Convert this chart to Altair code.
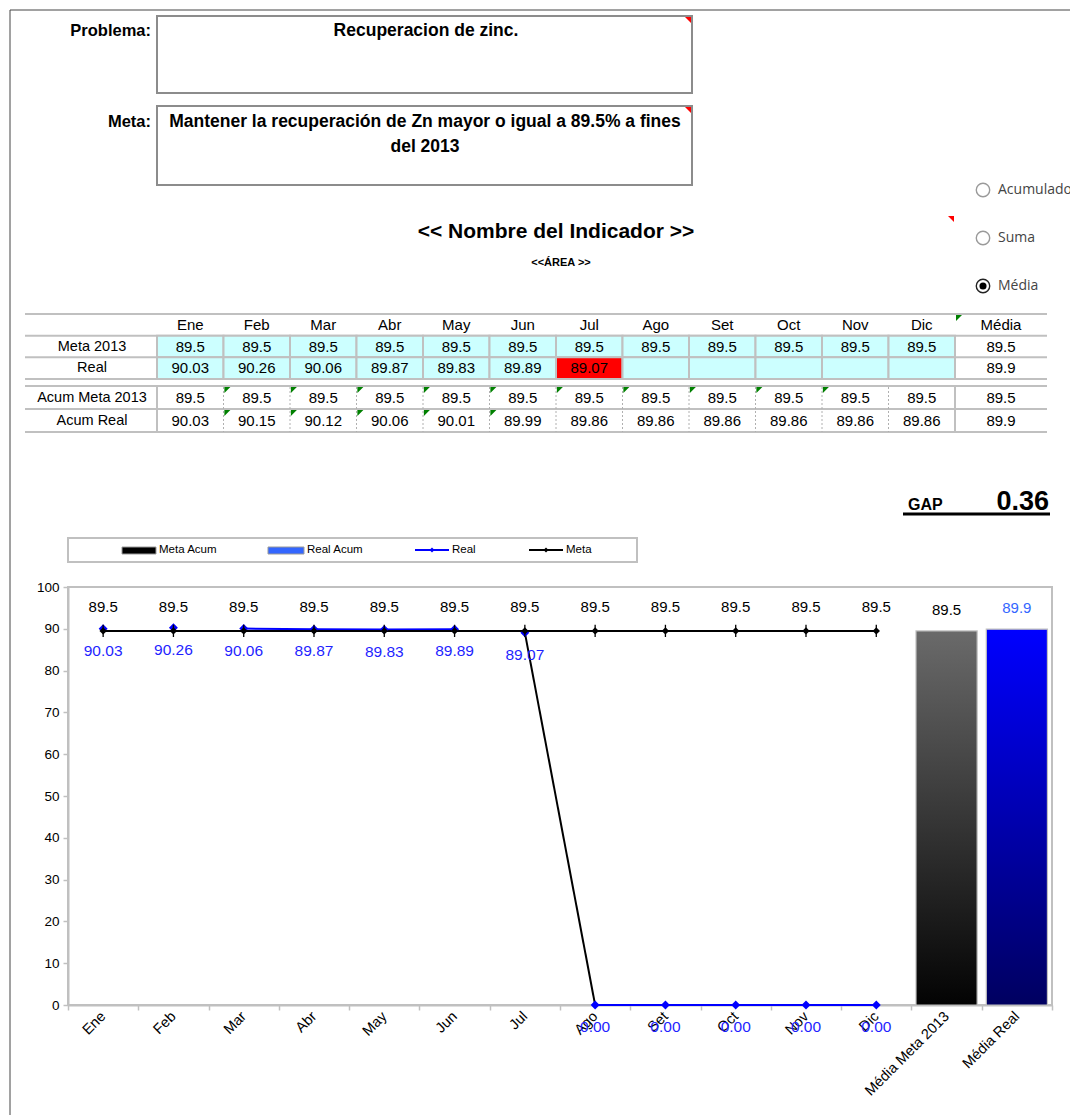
import altair as alt
import pandas as pd

# ------------------------------------------------------------------
# Datos del indicador
# ------------------------------------------------------------------
meses = ["Ene", "Feb", "Mar", "Abr", "May", "Jun", "Jul", "Ago", "Set", "Oct", "Nov", "Dic"]
meta_2013 = [89.5, 89.5, 89.5, 89.5, 89.5, 89.5, 89.5, 89.5, 89.5, 89.5, 89.5, 89.5]
real = [90.03, 90.26, 90.06, 89.87, 89.83, 89.89, 89.07, None, None, None, None, None]
real_grafico = [90.03, 90.26, 90.06, 89.87, 89.83, 89.89, 89.07, 0, 0, 0, 0, 0]
acum_meta = [89.5, 89.5, 89.5, 89.5, 89.5, 89.5, 89.5, 89.5, 89.5, 89.5, 89.5, 89.5]
acum_real = [90.03, 90.15, 90.12, 90.06, 90.01, 89.99, 89.86, 89.86, 89.86, 89.86, 89.86, 89.86]
media_meta = 89.5
media_real = 89.9
media_acum_meta = 89.5
media_acum_real = 89.9
barras = ["Média Meta 2013", "Média Real"]
barras_valor = [89.5, 89.9]
gap = 0.36
y_ticks = [0, 10, 20, 30, 40, 50, 60, 70, 80, 90, 100]

problema = "Recuperacion de zinc."
meta_texto = ["Mantener la recuperación de Zn mayor o igual a 89.5% a fines", "del 2013"]
titulo = "<< Nombre del Indicador >>"
area = "<<ÁREA >>"
opciones = ["Acumulado", "Suma", "Média"]
opcion_activa = "Média"

# celdas con comentario (triángulo verde)
coment_acum_meta = ["Feb", "Mar", "Abr", "May", "Jun", "Jul", "Ago", "Set", "Oct", "Nov"]
coment_acum_real = ["Feb", "Mar", "Abr", "May", "Jun"]
# tramos de la serie Real: los que salen de estos meses van en negro o no se trazan
tramos_negros = ["Jul"]
tramos_ocultos = ["Ene", "Feb", "Jun"]

# ------------------------------------------------------------------
# Geometría de la hoja
# ------------------------------------------------------------------
FONT = "Liberation Sans"
L, T, R, B = 68, 587, 1052, 1005          # área del gráfico
PW, PH = R - L, B - T


def X(px):
    return px - L


def Y(py):
    return py - T


def uno():
    return pd.DataFrame({"k": [0]})


def texto(t, x, y, **kw):
    base = dict(font=FONT, fontSize=15, color="black", align="center", baseline="middle")
    base.update(kw)
    return alt.Chart(pd.DataFrame({"t": [t]})).mark_text(**base).encode(
        x=alt.value(X(x)), y=alt.value(Y(y)), text="t:N"
    )


def caja(x1, y1, x2, y2, **kw):
    return alt.Chart(uno()).mark_rect(**kw).encode(
        x=alt.value(X(x1)), x2=alt.value(X(x2)), y=alt.value(Y(y1)), y2=alt.value(Y(y2))
    )


def linea(x1, y1, x2, y2, **kw):
    return alt.Chart(uno()).mark_rule(**kw).encode(
        x=alt.value(X(x1)), x2=alt.value(X(x2)), y=alt.value(Y(y1)), y2=alt.value(Y(y2))
    )


def simbolo(x, y, **kw):
    return alt.Chart(uno()).mark_point(**kw).encode(x=alt.value(X(x)), y=alt.value(Y(y)))


TRI_SUP_DER = "M-2,0L0,0L0,2Z"     # indicador de comentario (esquina superior derecha)
TRI_SUP_IZQ = "M0,0L2,0L0,2Z"      # indicador de comentario (esquina superior izquierda)

# ------------------------------------------------------------------
# Encabezado
# ------------------------------------------------------------------
encabezado = [
    linea(10, 10, 1070, 10, color="#444444", strokeWidth=1),
    linea(10, 10, 10, 1115, color="#444444", strokeWidth=1),
    texto("Problema:", 151, 31, align="right", fontWeight="bold", fontSize=16.5),
    caja(157, 16, 692, 93, fill="white", stroke="#8c8c8c", strokeWidth=2),
    texto(problema, 426, 31, fontWeight="bold", fontSize=17.5),
    simbolo(691, 17, shape=TRI_SUP_DER, filled=True, color="red", size=36, opacity=1),
    texto("Meta:", 151, 122, align="right", fontWeight="bold", fontSize=16.5),
    caja(157, 106, 692, 185, fill="white", stroke="#8c8c8c", strokeWidth=2),
    texto(meta_texto[0], 425, 122, fontWeight="bold", fontSize=17.5),
    texto(meta_texto[1], 425, 147, fontWeight="bold", fontSize=17.5),
    simbolo(691, 107, shape=TRI_SUP_DER, filled=True, color="red", size=36, opacity=1),
    texto(titulo, 556, 232, fontWeight="bold", fontSize=21),
    texto(area, 561, 263, fontWeight="bold", fontSize=11),
    simbolo(954, 216, shape=TRI_SUP_DER, filled=True, color="red", size=36, opacity=1),
]

for i, op in enumerate(opciones):
    yy = 190 + 48 * i
    activa = op == opcion_activa
    encabezado.append(
        simbolo(983, yy, shape="circle", filled=True, fill="white",
                stroke="#222222" if activa else "#9a9a9a", strokeWidth=1.4,
                size=180, opacity=1)
    )
    if activa:
        encabezado.append(simbolo(983, yy, shape="circle", filled=True, color="black", size=50, opacity=1))
    encabezado.append(texto(op, 998, yy, align="left", fontSize=14, color="#444444", font="Open Sans"))

# ------------------------------------------------------------------
# Tabla de valores
# ------------------------------------------------------------------
X_MES = alt.Scale(domain=meses, range=[X(157), X(955)], paddingInner=0, paddingOuter=0)
Y_SUP = alt.Scale(domain=["Mes", "Meta 2013", "Real"], range=[Y(314), Y(379)],
                  paddingInner=0, paddingOuter=0)
Y_INF = alt.Scale(domain=["Acum Meta 2013", "Acum Real"], range=[Y(386), Y(432)],
                  paddingInner=0, paddingOuter=0)
GRIS = "#C0C0C0"

filas_sup = []
for i, m in enumerate(meses):
    filas_sup.append({"mes": m, "fila": "Mes", "txt": m, "valor": None, "meta": None})
    filas_sup.append({"mes": m, "fila": "Meta 2013", "txt": f"{meta_2013[i]}",
                      "valor": meta_2013[i], "meta": meta_2013[i]})
    filas_sup.append({"mes": m, "fila": "Real",
                      "txt": "" if real[i] is None else f"{real[i]:.2f}",
                      "valor": real[i], "meta": meta_2013[i]})
df_sup = pd.DataFrame(filas_sup)

xs = alt.X("mes:N", scale=X_MES, axis=None)
ys = alt.Y("fila:N", scale=Y_SUP, axis=None)

celdas_sup = alt.Chart(df_sup).transform_filter("datum.fila != 'Mes'").mark_rect(
    stroke=GRIS, strokeWidth=2
).encode(
    x=xs, y=ys,
    color=alt.condition(
        "datum.fila == 'Real' && isValid(datum.valor) && datum.valor < datum.meta",
        alt.value("#FF0000"), alt.value("#CCFFFF"),
    ),
)
textos_sup = alt.Chart(df_sup).mark_text(fontSize=15, color="black").encode(x=xs, y=ys, text="txt:N")

df_filas_sup = pd.DataFrame({"fila": ["Mes", "Meta 2013", "Real"],
                             "etq": ["", "Meta 2013", "Real"],
                             "media": ["Média", f"{media_meta}", f"{media_real}"]})
rayas_sup = alt.Chart(df_filas_sup).mark_rule(color=GRIS, strokeWidth=2).encode(
    y=alt.Y("fila:N", scale=Y_SUP, axis=None, bandPosition=0),
    x=alt.value(X(25)), x2=alt.value(X(1047)),
)
raya_fin_sup = alt.Chart(df_filas_sup.tail(1)).mark_rule(color=GRIS, strokeWidth=2).encode(
    y=alt.Y("fila:N", scale=Y_SUP, axis=None, bandPosition=1),
    x=alt.value(X(25)), x2=alt.value(X(1047)),
)
etq_sup = alt.Chart(df_filas_sup).mark_text(fontSize=14.5, color="black").encode(
    y=alt.Y("fila:N", scale=Y_SUP, axis=None), x=alt.value(X(92)), text="etq:N"
)
media_sup = alt.Chart(df_filas_sup).mark_text(fontSize=15, color="black").encode(
    y=alt.Y("fila:N", scale=Y_SUP, axis=None), x=alt.value(X(1001)), text="media:N"
)
marca_media = simbolo(956, 315, shape=TRI_SUP_IZQ, filled=True, color="#008000", size=36, opacity=1)

tabla_sup = alt.layer(rayas_sup, raya_fin_sup, celdas_sup, textos_sup, etq_sup, media_sup)

filas_inf = []
for i, m in enumerate(meses):
    filas_inf.append({"mes": m, "fila": "Acum Meta 2013", "txt": f"{acum_meta[i]}",
                      "coment": m in coment_acum_meta})
    filas_inf.append({"mes": m, "fila": "Acum Real", "txt": f"{acum_real[i]:.2f}",
                      "coment": m in coment_acum_real})
df_inf = pd.DataFrame(filas_inf)
xi = alt.X("mes:N", scale=X_MES, axis=None)
yi = alt.Y("fila:N", scale=Y_INF, axis=None)

textos_inf = alt.Chart(df_inf).mark_text(fontSize=15, color="black").encode(x=xi, y=yi, text="txt:N")
verdes = alt.Chart(df_inf).transform_filter("datum.coment").mark_point(
    shape="M0.3,0.3L2.3,0.3L0.3,2.3Z", filled=True, color="#008000", size=36, opacity=1
).encode(
    x=alt.X("mes:N", scale=X_MES, axis=None, bandPosition=0),
    y=alt.Y("fila:N", scale=Y_INF, axis=None, bandPosition=0),
)
df_filas_inf = pd.DataFrame({"fila": ["Acum Meta 2013", "Acum Real"],
                             "etq": ["Acum Meta 2013", "Acum Real"],
                             "media": [f"{media_acum_meta}", f"{media_acum_real}"]})
rayas_inf = alt.Chart(df_filas_inf).mark_rule(color=GRIS, strokeWidth=2).encode(
    y=alt.Y("fila:N", scale=Y_INF, axis=None, bandPosition=0),
    x=alt.value(X(25)), x2=alt.value(X(1047)),
)
raya_fin_inf = alt.Chart(df_filas_inf.tail(1)).mark_rule(color=GRIS, strokeWidth=2).encode(
    y=alt.Y("fila:N", scale=Y_INF, axis=None, bandPosition=1),
    x=alt.value(X(25)), x2=alt.value(X(1047)),
)
df_cols = pd.DataFrame({"mes": meses})
sep_punteado = alt.Chart(df_cols).transform_filter(f"datum.mes != '{meses[0]}'").mark_rule(
    color="#b0b0b0", strokeWidth=1, strokeDash=[2, 2]
).encode(
    x=alt.X("mes:N", scale=X_MES, axis=None, bandPosition=0),
    y=alt.value(Y(387)), y2=alt.value(Y(432)),
)
sep_ini = alt.Chart(df_cols.head(1)).mark_rule(color=GRIS, strokeWidth=2).encode(
    x=alt.X("mes:N", scale=X_MES, axis=None, bandPosition=0),
    y=alt.value(Y(386)), y2=alt.value(Y(432)),
)
sep_fin = alt.Chart(df_cols.tail(1)).mark_rule(color=GRIS, strokeWidth=2).encode(
    x=alt.X("mes:N", scale=X_MES, axis=None, bandPosition=1),
    y=alt.value(Y(386)), y2=alt.value(Y(432)),
)
etq_inf = alt.Chart(df_filas_inf).mark_text(fontSize=14.5, color="black").encode(
    y=alt.Y("fila:N", scale=Y_INF, axis=None), x=alt.value(X(92)), text="etq:N"
)
media_inf = alt.Chart(df_filas_inf).mark_text(fontSize=15, color="black").encode(
    y=alt.Y("fila:N", scale=Y_INF, axis=None), x=alt.value(X(1001)), text="media:N"
)
tabla_inf = alt.layer(rayas_inf, raya_fin_inf, sep_punteado, sep_ini, sep_fin,
                      textos_inf, verdes, etq_inf, media_inf)

# ------------------------------------------------------------------
# GAP y leyenda
# ------------------------------------------------------------------
extras = [
    marca_media,
    texto("GAP", 908, 510, align="left", baseline="alphabetic", fontWeight="bold", fontSize=16),
    texto(f"{gap:.2f}", 1049, 510, align="right", baseline="alphabetic", fontWeight="bold", fontSize=27),
    linea(903, 514, 1050, 514, color="black", strokeWidth=3),
    caja(68, 538, 637, 562, fill="white", stroke=GRIS, strokeWidth=2),
    caja(122, 547, 156, 554, fill="black", stroke="#9a9a9a", strokeWidth=1),
    texto("Meta Acum", 159, 550, align="left", fontSize=11.5),
    caja(268, 547, 304, 554, fill="#3366FF", stroke="#9a9a9a", strokeWidth=1),
    texto("Real Acum", 307, 550, align="left", fontSize=11.5),
    linea(415, 550, 449, 550, color="#0000FF", strokeWidth=2),
    simbolo(432, 550, shape="diamond", filled=True, color="#0000FF", size=25, opacity=1),
    texto("Real", 452, 550, align="left", fontSize=11.5),
    linea(529, 550, 563, 550, color="black", strokeWidth=2),
    simbolo(546, 550, shape="diamond", filled=True, color="black", size=25, opacity=1),
    texto("Meta", 566, 550, align="left", fontSize=11.5),
]

# ------------------------------------------------------------------
# Gráfico principal
# ------------------------------------------------------------------
X_MAIN = alt.Scale(domain=meses + barras, paddingInner=0, paddingOuter=0)
Y_MAIN = alt.Scale(domain=[0, 100], nice=False)
eje_x = alt.Axis(title=None, labelAngle=-45, labelAlign="right", labelBaseline="middle",
                 labelFontSize=14.5, labelColor="black", labelFont=FONT, labelPadding=4,
                 tickColor=GRIS, tickSize=5, tickWidth=1.5, tickBand="extent",
                 domainColor=GRIS, domainWidth=2, labelOverlap=False)
eje_y = alt.Axis(title=None, values=y_ticks, grid=False, labelFontSize=13.5, labelColor="black",
                 labelFont=FONT, labelPadding=4, tickColor=GRIS, tickSize=5, tickWidth=1.5,
                 domainColor=GRIS, domainWidth=2)
ex = alt.X("cat:N", scale=X_MAIN, axis=eje_x)
ey = alt.Y("val:Q", scale=Y_MAIN, axis=eje_y)

df_meta = pd.DataFrame({"cat": meses, "val": meta_2013})
df_real = pd.DataFrame({"cat": meses, "val": real_grafico})
df_barras = pd.DataFrame({"cat": barras, "val": barras_valor})

tramos = []
for i in range(len(meses) - 1):
    if meses[i] in tramos_ocultos:
        continue
    for j in (i, i + 1):
        tramos.append({"tramo": i, "inicio": meses[i], "cat": meses[j], "val": real_grafico[j]})
df_tramos = pd.DataFrame(tramos)

grad_meta = alt.Gradient(gradient="linear", x1=0, x2=0, y1=0, y2=1, stops=[
    alt.GradientStop(color="#6a6a6a", offset=0), alt.GradientStop(color="#030303", offset=1)])
grad_real = alt.Gradient(gradient="linear", x1=0, x2=0, y1=0, y2=1, stops=[
    alt.GradientStop(color="#0000FF", offset=0), alt.GradientStop(color="#000060", offset=1)])

barra_meta = alt.Chart(df_barras).transform_filter(f"datum.cat == '{barras[0]}'").mark_bar(
    width=alt.RelativeBandSize(0.87), color=grad_meta, stroke=GRIS, strokeWidth=1.2
).encode(x=ex, y=ey)
barra_real = alt.Chart(df_barras).transform_filter(f"datum.cat == '{barras[1]}'").mark_bar(
    width=alt.RelativeBandSize(0.87), color=grad_real, stroke=GRIS, strokeWidth=1.2
).encode(x=ex, y=ey)
etq_barras = alt.Chart(df_barras).mark_text(fontSize=15, dy=-21).encode(
    x=ex, y=ey, text=alt.Text("val:Q", format=".1f"),
    color=alt.condition(f"datum.cat == '{barras[1]}'", alt.value("#3366FF"), alt.value("black")),
)

linea_real = alt.Chart(df_tramos).mark_line(strokeWidth=2).encode(
    x=ex, y=ey, detail="tramo:N",
    color=alt.condition(alt.FieldOneOfPredicate(field="inicio", oneOf=tramos_negros),
                        alt.value("black"), alt.value("#0000FF")),
)
linea_meta = alt.Chart(df_meta).mark_line(color="black", strokeWidth=2).encode(x=ex, y=ey)
puntos_real = alt.Chart(df_real).mark_point(shape="diamond", filled=True, color="#0000FF",
                                            size=80, opacity=1).encode(x=ex, y=ey)
puntos_meta = alt.Chart(df_meta).mark_point(shape="diamond", filled=True, color="black",
                                            size=55, opacity=1).encode(x=ex, y=ey)
cruz_meta = alt.Chart(df_meta).mark_point(shape="M0,-1L0,1", filled=False, color="black",
                                          strokeWidth=1.3, size=150, opacity=1).encode(x=ex, y=ey)
etq_meta = alt.Chart(df_meta).mark_text(fontSize=15, color="black", dy=-24).encode(
    x=ex, y=ey, text=alt.Text("val:Q", format=".1f"))
etq_real = alt.Chart(df_real).mark_text(fontSize=15.5, color="#1F1FFF", dy=22).encode(
    x=ex, y=ey, text=alt.Text("val:Q", format=".2f"))

principal = alt.layer(
    barra_meta, barra_real, etq_barras, linea_real, linea_meta, puntos_real,
    puntos_meta, cruz_meta, etq_meta, etq_real,
)

chart = alt.layer(
    principal, tabla_sup, tabla_inf, *encabezado, *extras
).resolve_scale(
    x="independent", y="independent"
).properties(
    width=PW, height=PH,
    padding={"left": L, "top": T, "right": 1070 - R, "bottom": 1115 - B},
    autosize=alt.AutoSizeParams(type="none"),
).configure(
    font=FONT
).configure_view(
    stroke=GRIS, strokeWidth=2
)

chart.save("out.html", embed_options={"renderer": "svg", "actions": False})
